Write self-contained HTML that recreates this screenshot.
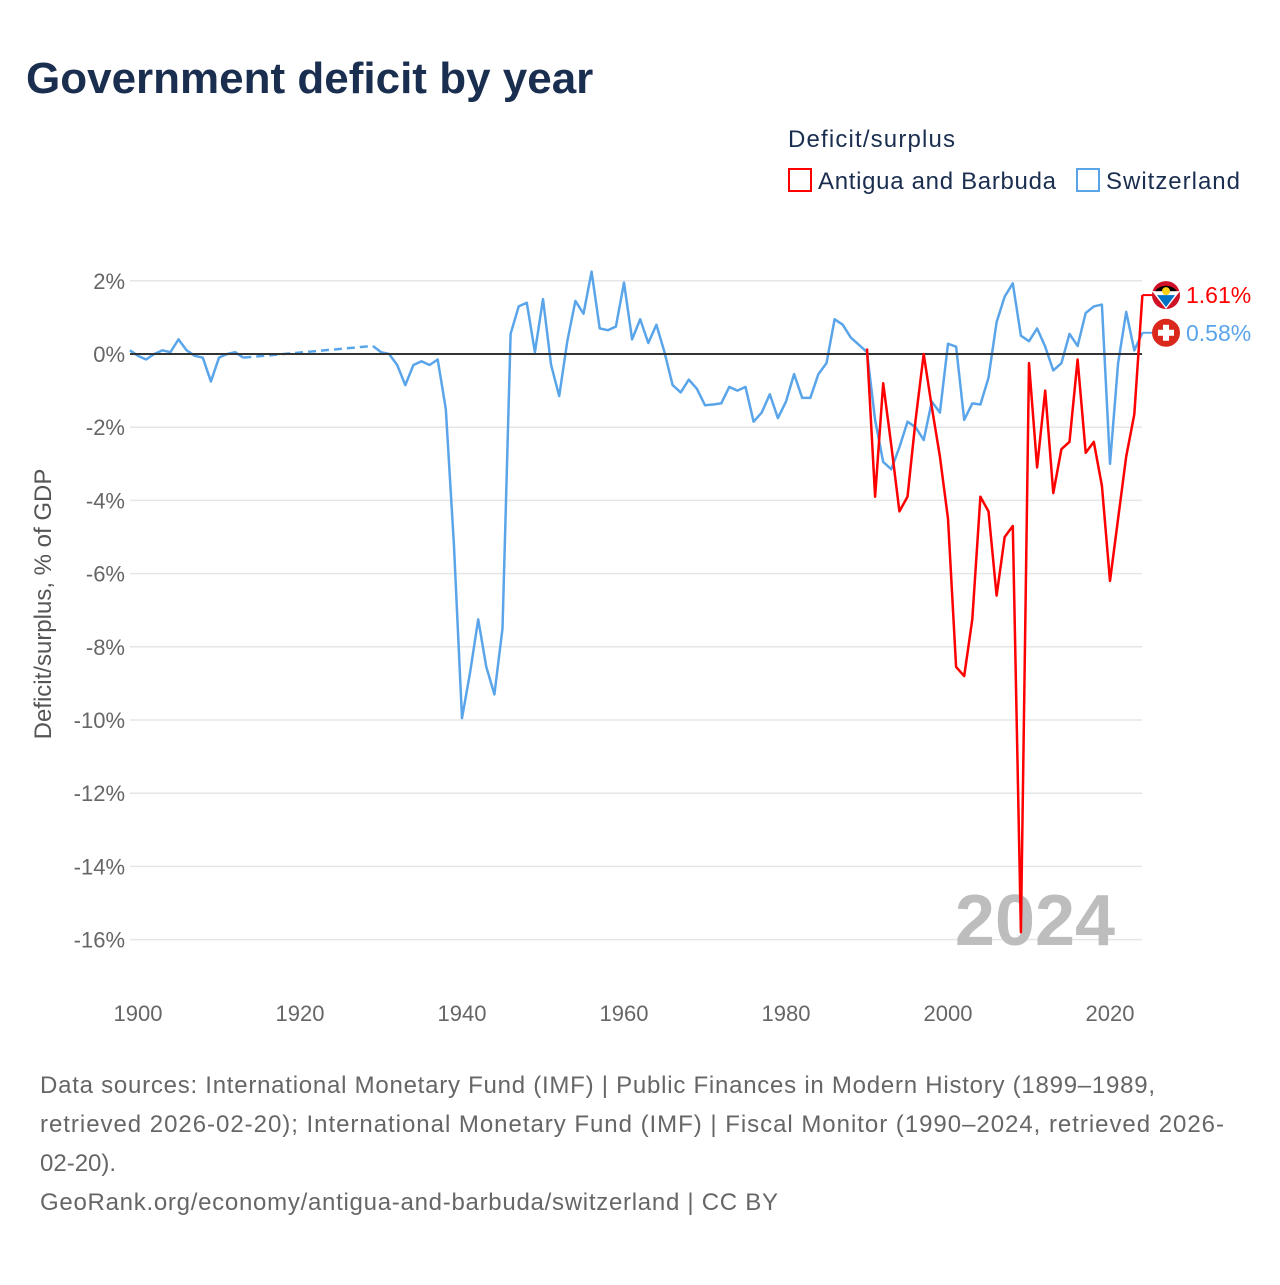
<!DOCTYPE html>
<html><head><meta charset="utf-8"><style>
body{margin:0;background:#fff;font-family:"Liberation Sans",sans-serif;}
svg text{font-family:"Liberation Sans",sans-serif;}
</style></head><body>
<svg id="chart" width="1280" height="1280" viewBox="0 0 1280 1280">
<text x="26" y="93" font-size="44" font-weight="bold" fill="#1a2e4f">Government deficit by year</text>
<text x="788" y="147" font-size="24" fill="#1a2e4f" textLength="167">Deficit/surplus</text>
<g><rect x="789" y="169" width="22" height="22" fill="none" stroke="#ff0000" stroke-width="2"/><text x="818" y="189" font-size="24" fill="#1a2e4f" textLength="238">Antigua and Barbuda</text></g>
<g><rect x="1077" y="169" width="22" height="22" fill="none" stroke="#5aa5ea" stroke-width="2"/><text x="1106" y="189" font-size="24" fill="#1a2e4f" textLength="134">Switzerland</text></g>
<g id="grid"></g>
<text x="1035" y="945" font-size="72" font-weight="bold" fill="#bdbdbd" text-anchor="middle">2024</text>
<g id="series"></g>
<text transform="translate(51,604) rotate(-90)" font-size="24" fill="#555" text-anchor="middle">Deficit/surplus, % of GDP</text>
<text x="40" y="1093" font-size="24" fill="#666" textLength="1115">Data sources: International Monetary Fund (IMF) | Public Finances in Modern History (1899–1989,</text>
<text x="40" y="1132" font-size="24" fill="#666" textLength="1184">retrieved 2026-02-20); International Monetary Fund (IMF) | Fiscal Monitor (1990–2024, retrieved 2026-</text>
<text x="40" y="1171" font-size="24" fill="#666">02-20).</text>
<text x="40" y="1210" font-size="24" fill="#666" textLength="738">GeoRank.org/economy/antigua-and-barbuda/switzerland | CC BY</text>
</svg>
<script>
const yTicks=[2,0,-2,-4,-6,-8,-10,-12,-14,-16];
const xTicks=[1900,1920,1940,1960,1980,2000,2020];
const chYears=[1899,1900,1901,1902,1903,1904,1905,1906,1907,1908,1909,1910,1911,1912,1913,1929,1930,1931,1932,1933,1934,1935,1936,1937,1938,1939,1940,1941,1942,1943,1944,1945,1946,1947,1948,1949,1950,1951,1952,1953,1954,1955,1956,1957,1958,1959,1960,1961,1962,1963,1964,1965,1966,1967,1968,1969,1970,1971,1972,1973,1974,1975,1976,1977,1978,1979,1980,1981,1982,1983,1984,1985,1986,1987,1988,1989,1990,1991,1992,1993,1994,1995,1996,1997,1998,1999,2000,2001,2002,2003,2004,2005,2006,2007,2008,2009,2010,2011,2012,2013,2014,2015,2016,2017,2018,2019,2020,2021,2022,2023,2024];
const chValues=[0.1,-0.05,-0.15,0.0,0.1,0.05,0.4,0.1,-0.05,-0.1,-0.75,-0.1,0.0,0.05,-0.1,0.22,0.05,0.0,-0.3,-0.85,-0.3,-0.2,-0.3,-0.15,-1.5,-5.2,-9.95,-8.7,-7.25,-8.55,-9.3,-7.5,0.55,1.3,1.4,0.05,1.5,-0.3,-1.15,0.35,1.45,1.1,2.25,0.7,0.65,0.75,1.95,0.4,0.95,0.3,0.8,0.05,-0.85,-1.05,-0.7,-0.95,-1.4,-1.38,-1.35,-0.9,-1.0,-0.9,-1.85,-1.6,-1.1,-1.75,-1.3,-0.55,-1.2,-1.2,-0.55,-0.25,0.95,0.8,0.45,0.25,0.05,-1.8,-2.95,-3.15,-2.55,-1.85,-2.0,-2.35,-1.3,-1.6,0.28,0.2,-1.8,-1.35,-1.38,-0.65,0.87,1.57,1.93,0.5,0.35,0.7,0.2,-0.45,-0.25,0.55,0.22,1.12,1.3,1.35,-3.0,-0.25,1.15,0.1,0.58];
const agYears=[1990,1991,1992,1993,1994,1995,1996,1997,1998,1999,2000,2001,2002,2003,2004,2005,2006,2007,2008,2009,2010,2011,2012,2013,2014,2015,2016,2017,2018,2019,2020,2021,2022,2023,2024];
const agValues=[0.15,-3.9,-0.8,-2.5,-4.3,-3.9,-1.8,0.0,-1.45,-2.8,-4.5,-8.55,-8.8,-7.25,-3.9,-4.3,-6.6,-5.0,-4.7,-15.8,-0.25,-3.1,-1.0,-3.8,-2.6,-2.4,-0.15,-2.7,-2.4,-3.6,-6.2,-4.5,-2.8,-1.65,1.61];
const X=y=>138+(y-1900)*8.1;
const Y=v=>354-v*36.6;
const NS='http://www.w3.org/2000/svg';
const grid=document.getElementById('grid'),ser=document.getElementById('series');
function mk(tag,attrs,parent){const e=document.createElementNS(NS,tag);for(const k in attrs)e.setAttribute(k,attrs[k]);parent.appendChild(e);return e;}
yTicks.forEach(t=>{
 const l=mk('line',{x1:130,x2:1142,y1:Y(t),y2:Y(t),stroke:'#e6e6e6','stroke-width':1.5},grid);
 
 
 const tx=mk('text',{x:125,y:Y(t)+8,'font-size':22,fill:'#666','text-anchor':'end'},grid);
 tx.textContent=t+'%';
 
 
});
xTicks.forEach(t=>{
 const tx=mk('text',{x:X(t),y:1021,'font-size':22,fill:'#666','text-anchor':'middle'},grid);
 tx.textContent=t;
 
 
});
let segs=[[]];
chYears.forEach((yr,i)=>{if(i>0&&yr-chYears[i-1]>1)segs.push([]);segs[segs.length-1].push([X(yr),Y(chValues[i])]);});
for(let s=1;s<segs.length;s++){
 const a=segs[s-1][segs[s-1].length-1],b=segs[s][0];
 const d=mk('line',{x1:a[0],y1:a[1],x2:b[0],y2:b[1],stroke:'#5aa5ea','stroke-width':2.5,'stroke-dasharray':'8,5'},ser);
 
 
}
segs.forEach(sg=>{
 const p=mk('polyline',{points:sg.map(q=>q.join(',')).join(' '),fill:'none',stroke:'#5aa5ea','stroke-width':2.5,'stroke-linejoin':'round'},ser);
 
 
});
const z=mk('line',{x1:130,x2:1142,y1:Y(0),y2:Y(0),stroke:'#333','stroke-width':2},ser);


const ag=mk('polyline',{points:agYears.map((yr,i)=>X(yr)+','+Y(agValues[i])).join(' '),fill:'none',stroke:'#ff0000','stroke-width':2.5,'stroke-linejoin':'round'},ser);


const agLast=agValues[agValues.length-1],chLast=chValues[chValues.length-1];
const ax=X(2024);
const h1=mk('line',{x1:ax,x2:1152,y1:Y(agLast),y2:Y(agLast),stroke:'#ff0000','stroke-width':2},ser);


const h2=mk('line',{x1:ax,x2:1152,y1:Y(chLast),y2:Y(chLast),stroke:'#5aa5ea','stroke-width':2},ser);


const f1=mk('g',{},ser);


mk('circle',{cx:1166,cy:Y(agLast),r:14,fill:'#ce1126'},f1);
mk('path',{d:`M1152 ${Y(agLast)-4} L1180 ${Y(agLast)-4} L1166 ${Y(agLast)+14} Z`,fill:'#fff'},f1);
mk('path',{d:`M1155 ${Y(agLast)-4} A14 14 0 0 1 1177 ${Y(agLast)-4} Z`,fill:'#000'},f1);
mk('path',{d:`M1157 ${Y(agLast)} L1175 ${Y(agLast)} L1166 ${Y(agLast)+12} Z`,fill:'#0072c6'},f1);
mk('circle',{cx:1166,cy:Y(agLast)-4,r:4,fill:'#fcd116'},f1);
const f2=mk('g',{},ser);


mk('circle',{cx:1166,cy:Y(chLast),r:14,fill:'#da291c'},f2);
mk('rect',{x:1163,y:Y(chLast)-8,width:6,height:16,fill:'#fff'},f2);
mk('rect',{x:1158,y:Y(chLast)-3,width:16,height:6,fill:'#fff'},f2);
const l1=mk('text',{x:1186,y:Y(agLast)+8,'font-size':23,fill:'#ff0000'},ser);
l1.textContent=agLast.toFixed(2)+'%';


const l2=mk('text',{x:1186,y:Y(chLast)+8,'font-size':23,fill:'#5aa5ea'},ser);
l2.textContent=chLast.toFixed(2)+'%';


</script>
</body></html>
